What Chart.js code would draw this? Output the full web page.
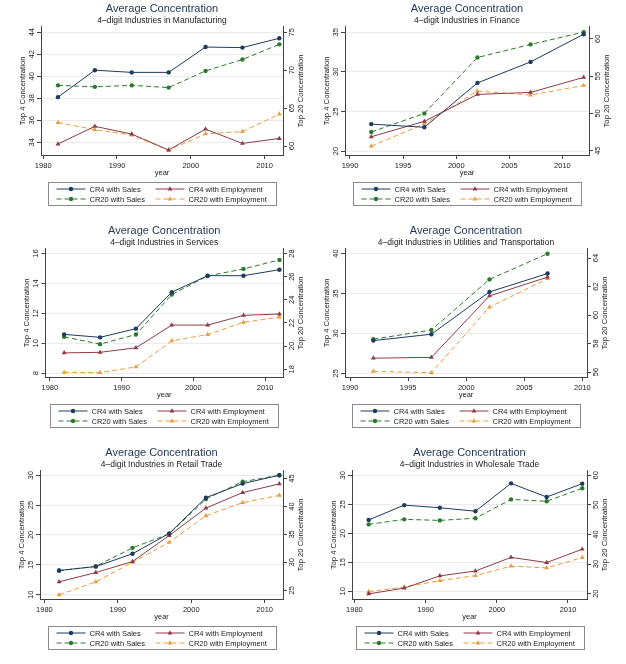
<!DOCTYPE html>
<html>
<head>
<meta charset="utf-8">
<script src="https://cdn.jsdelivr.net/npm/chart.js@4.4.1/dist/chart.umd.min.js"></script>
<style>
  html, body { margin: 0; padding: 0; background: #fff; }
  #wrap { position: relative; width: 626px; height: 664px; }
  #wrap canvas { position: absolute; }
</style>
</head>
<body>
<div id="wrap"></div>
<script>
// years of the census waves
const years82 = [1982, 1987, 1992, 1997, 2002, 2007, 2012];
const years92 = [1992, 1997, 2002, 2007, 2012];
const years92to07 = [1992, 1997, 2002, 2007];

// Manufacturing
const mfgCr4Sales = [38.1, 40.55, 40.35, 40.35, 42.65, 42.6, 43.45];
const mfgCr4Emp = [33.85, 35.45, 34.75, 33.3, 35.2, 33.9, 34.35];
const mfgCr20Sales = [68.0, 67.8, 68.0, 67.7, 69.9, 71.4, 73.4];
const mfgCr20Emp = [63.1, 62.15, 61.45, 59.45, 61.6, 61.9, 64.2];

// Finance
const finCr4Sales = [23.4, 23.0, 28.6, 31.25, 34.75];
const finCr4Emp = [21.8, 23.75, 27.15, 27.4, 29.3];
const finCr20Sales = [47.5, 50.0, 57.5, 59.25, 60.9];
const finCr20Emp = [45.6, 48.6, 53.0, 52.45, 53.75];

// Services
const svcCr4Sales = [10.6, 10.4, 10.98, 13.42, 14.52, 14.52, 14.92];
const svcCr4Emp = [9.36, 9.4, 9.7, 11.22, 11.22, 11.87, 11.96];
const svcCr20Sales = [20.8, 20.17, 21.0, 24.46, 26.06, 26.67, 27.45];
const svcCr20Emp = [17.74, 17.71, 18.2, 20.46, 21.0, 22.06, 22.5];

// Utilities and Transportation
const utlCr4Sales = [29.1, 29.9, 35.2, 37.5];
const utlCr4Emp = [26.9, 27.0, 34.7, 37.05];
const utlCr20Sales = [58.3, 58.95, 62.5, 64.3];
const utlCr20Emp = [56.05, 55.95, 60.55, 62.55];

// Retail Trade
const rtlCr4Sales = [14.05, 14.7, 16.85, 20.25, 26.25, 28.6, 30.0];
const rtlCr4Emp = [12.15, 13.7, 15.55, 19.9, 24.5, 27.1, 28.55];
const rtlCr20Sales = [28.5, 29.3, 32.6, 35.1, 41.35, 44.45, 45.6];
const rtlCr20Emp = [24.2, 26.5, 30.0, 33.6, 38.35, 40.7, 42.0];

// Wholesale Trade
const whlCr4Sales = [22.3, 24.85, 24.4, 23.8, 28.6, 26.25, 28.55];
const whlCr4Emp = [9.55, 10.55, 12.65, 13.5, 15.85, 14.95, 17.25];
const whlCr20Sales = [43.4, 45.1, 44.75, 45.5, 51.85, 51.2, 55.6];
const whlCr20Emp = [20.7, 22.25, 24.4, 26.1, 29.3, 28.7, 32.2];

// tick labels
const xTicks80 = [1980, 1990, 2000, 2010];
const xTicks90 = [1990, 1995, 2000, 2005, 2010];
const mfgLeftTicks = [34, 36, 38, 40, 42, 44];
const mfgRightTicks = [60, 65, 70, 75];
const finLeftTicks = [20, 25, 30, 35];
const finRightTicks = [45, 50, 55, 60];
const svcLeftTicks = [8, 10, 12, 14, 16];
const svcRightTicks = [18, 20, 22, 24, 26, 28];
const utlLeftTicks = [25, 30, 35, 40];
const utlRightTicks = [56, 58, 60, 62, 64];
const rtlLeftTicks = [10, 15, 20, 25, 30];
const rtlRightTicks = [25, 30, 35, 40, 45];
const whlLeftTicks = [10, 15, 20, 25, 30];
const whlRightTicks = [20, 30, 40, 50, 60];

const chartTitle = "Average Concentration";
const seriesLabels = ["CR4 with Sales", "CR4 with Employment", "CR20 with Sales", "CR20 with Employment"];

const FONT = "'Liberation Sans', Arial, sans-serif";
const colors = ["#1d3a5f", "#8e3a46", "#2b7a2b", "#ec9b3d"];
const styles = ["circle", "triangle", "circle", "triangle"];
const dashes = [[], [], [5, 3], [5, 3]];
const axisCol = "#444";

const panels = [
  { sub: "4\u2013digit Industries in Manufacturing", years: years82,
    series: [mfgCr4Sales, mfgCr4Emp, mfgCr20Sales, mfgCr20Emp],
    xTicks: xTicks80, yTicks: mfgLeftTicks, y2Ticks: mfgRightTicks,
    x: 0, y: 0, w: 310, h: 222, L: 41, R: 283, B: 155,
    xr: [1979.7, 2012.5], yr: [32.85, 44.48], y2r: [58.82, 75.7] },
  { sub: "4\u2013digit Industries in Finance", years: years92,
    series: [finCr4Sales, finCr4Emp, finCr20Sales, finCr20Emp],
    xTicks: xTicks90, yTicks: finLeftTicks, y2Ticks: finRightTicks,
    x: 310, y: 0, w: 316, h: 222, L: 35, R: 279, B: 155,
    xr: [1989.53, 2012.5], yr: [19.5, 35.67], y2r: [44.42, 61.6] },
  { sub: "4\u2013digit Industries in Services", years: years82,
    series: [svcCr4Sales, svcCr4Emp, svcCr20Sales, svcCr20Emp],
    xTicks: xTicks80, yTicks: svcLeftTicks, y2Ticks: svcRightTicks,
    x: 0, y: 222, w: 310, h: 222, L: 45.5, R: 283, B: 155,
    xr: [1979.4, 2012.5], yr: [7.75, 16.31], y2r: [17.33, 28.4] },
  { sub: "4\u2013digit Industries in Utilities and Transportation", years: years92to07,
    series: [utlCr4Sales, utlCr4Emp, utlCr20Sales, utlCr20Emp],
    xTicks: xTicks90, yTicks: utlLeftTicks, y2Ticks: utlRightTicks,
    x: 310, y: 222, w: 316, h: 222, L: 35, R: 277, B: 155,
    xr: [1989.56, 2010.4], yr: [24.54, 40.59], y2r: [55.65, 64.64] },
  { sub: "4\u2013digit Industries in Retail Trade", years: years82,
    series: [rtlCr4Sales, rtlCr4Emp, rtlCr20Sales, rtlCr20Emp],
    xTicks: xTicks80, yTicks: rtlLeftTicks, y2Ticks: rtlRightTicks,
    x: 0, y: 444, w: 310, h: 220, L: 40, R: 283, B: 155,
    xr: [1979.4, 2012.5], yr: [9.27, 30.73], y2r: [23.44, 46.38] },
  { sub: "4\u2013digit Industries in Wholesale Trade", years: years82,
    series: [whlCr4Sales, whlCr4Emp, whlCr20Sales, whlCr20Emp],
    xTicks: xTicks80, yTicks: whlLeftTicks, y2Ticks: whlRightTicks,
    x: 310, y: 444, w: 316, h: 220, L: 42, R: 277, B: 155,
    xr: [1979.66, 2012.67], yr: [8.67, 30.75], y2r: [18.2, 61.47] }
];

function drawMarker(ctx, style, x, y, color) {
  ctx.fillStyle = color;
  ctx.beginPath();
  if (style === "circle") {
    ctx.arc(x, y, 2.2, 0, Math.PI * 2);
  } else {
    const r = 2.8;
    ctx.moveTo(x, y - r);
    ctx.lineTo(x + r * 0.866, y + r * 0.5);
    ctx.lineTo(x - r * 0.866, y + r * 0.5);
    ctx.closePath();
  }
  ctx.fill();
}

// right axis title (reads bottom to top) and the boxed 2x2 legend
const extras = {
  id: "extras",
  afterDraw(chart) {
    const ctx = chart.ctx;
    const a = chart.chartArea;
    ctx.save();
    ctx.font = "7.7px " + FONT;
    ctx.fillStyle = "#222";
    ctx.textAlign = "center";
    ctx.textBaseline = "middle";
    ctx.translate(a.right + 17.5, (a.top + a.bottom) / 2);
    ctx.rotate(-Math.PI / 2);
    ctx.fillText("Top 20 Concentration", 0, 0);
    ctx.restore();

    const bw = 228, bh = 23;
    const bx = Math.round((a.left + a.right) / 2 - bw / 2) + 0.5;
    const by = Math.round(a.bottom + 27) + 0.5;
    ctx.save();
    ctx.fillStyle = "#fff";
    ctx.fillRect(bx, by, bw, bh);
    ctx.strokeStyle = "#8a8a8a";
    ctx.lineWidth = 1;
    ctx.strokeRect(bx, by, bw, bh);
    ctx.font = "7.5px " + FONT;
    ctx.textBaseline = "middle";
    ctx.textAlign = "left";
    const cols = [8, 107];
    const rows = [6.5, 16.5];
    const order = [[0, 0, 0], [1, 1, 0], [2, 0, 1], [3, 1, 1]];
    for (const [i, c, r] of order) {
      const x0 = bx + cols[c], y0 = by + rows[r];
      ctx.strokeStyle = colors[i];
      ctx.setLineDash(dashes[i]);
      ctx.beginPath();
      ctx.moveTo(x0, y0);
      ctx.lineTo(x0 + 29, y0);
      ctx.stroke();
      ctx.setLineDash([]);
      drawMarker(ctx, styles[i], x0 + 14.5, y0, colors[i]);
      ctx.fillStyle = "#222";
      ctx.fillText(seriesLabels[i], x0 + 33, y0 + 0.5);
    }
    ctx.restore();
  }
};

const wrap = document.getElementById("wrap");

for (const p of panels) {
  const cv = document.createElement("canvas");
  cv.width = p.w;
  cv.height = p.h;
  cv.style.left = p.x + "px";
  cv.style.top = p.y + "px";
  cv.style.width = p.w + "px";
  cv.style.height = p.h + "px";
  wrap.appendChild(cv);

  const datasets = p.series.map((vals, i) => ({
    label: seriesLabels[i],
    data: vals.map((v, k) => ({ x: p.years[k], y: v })),
    yAxisID: i < 2 ? "y" : "y2",
    borderColor: colors[i],
    backgroundColor: colors[i],
    borderWidth: 1,
    borderDash: dashes[i],
    pointStyle: styles[i],
    pointRadius: styles[i] === "circle" ? 2.2 : 2.8,
    pointBorderWidth: 0,
    pointBackgroundColor: colors[i],
    tension: 0,
    clip: false
  }));

  const tickFont = { family: FONT, size: 7.5 };

  new Chart(cv, {
    type: "line",
    data: { datasets },
    plugins: [extras],
    options: {
      responsive: false,
      animation: false,
      devicePixelRatio: 1,
      layout: { padding: { left: 0, right: 0, top: 0, bottom: p.h - p.B - 25 } },
      plugins: {
        legend: { display: false },
        tooltip: { enabled: false },
        title: {
          display: true, text: chartTitle, fullSize: false, color: "#1f3554",
          font: { family: FONT, size: 11, weight: "normal" }, padding: { top: 2, bottom: 0 }
        },
        subtitle: {
          display: true, text: p.sub, fullSize: false, color: "#222",
          font: { family: FONT, size: 8.5 }, padding: { top: 0, bottom: 1.5 }
        }
      },
      scales: {
        x: {
          type: "linear", position: "bottom", min: p.xr[0], max: p.xr[1],
          afterBuildTicks: s => { s.ticks = p.xTicks.map(v => ({ value: v })); },
          afterFit: s => { s.height = 25; },
          ticks: { font: tickFont, color: "#222", padding: 2, maxRotation: 0, callback: v => String(v) },
          grid: { drawOnChartArea: false, tickColor: axisCol, tickLength: 4 },
          border: { display: true, color: axisCol, width: 1 },
          title: { display: true, text: "year", color: "#222", font: { family: FONT, size: 7.5 }, padding: { top: 0, bottom: 3 } }
        },
        y: {
          type: "linear", position: "left", min: p.yr[0], max: p.yr[1],
          afterBuildTicks: s => { s.ticks = p.yTicks.map(v => ({ value: v })); },
          afterFit: s => { s.width = p.L; },
          ticks: { font: tickFont, color: "#222", padding: 1, minRotation: 90, maxRotation: 90, crossAlign: "center", callback: v => String(v) },
          grid: { color: "#ebebeb", tickColor: axisCol, tickLength: 4 },
          border: { display: true, color: axisCol, width: 1 },
          title: { display: true, text: "Top 4 Concentration", color: "#222", font: { family: FONT, size: 7.7 }, padding: { top: p.L - 22.9, bottom: 0 } }
        },
        y2: {
          type: "linear", position: "right", min: p.y2r[0], max: p.y2r[1],
          afterBuildTicks: s => { s.ticks = p.y2Ticks.map(v => ({ value: v })); },
          afterFit: s => { s.width = p.w - p.R; },
          ticks: { font: tickFont, color: "#222", padding: 1, minRotation: 90, maxRotation: 90, crossAlign: "center", callback: v => String(v) },
          grid: { drawOnChartArea: false, tickColor: axisCol, tickLength: 4 },
          border: { display: true, color: axisCol, width: 1 }
        }
      }
    }
  });
}
</script>
</body>
</html>
